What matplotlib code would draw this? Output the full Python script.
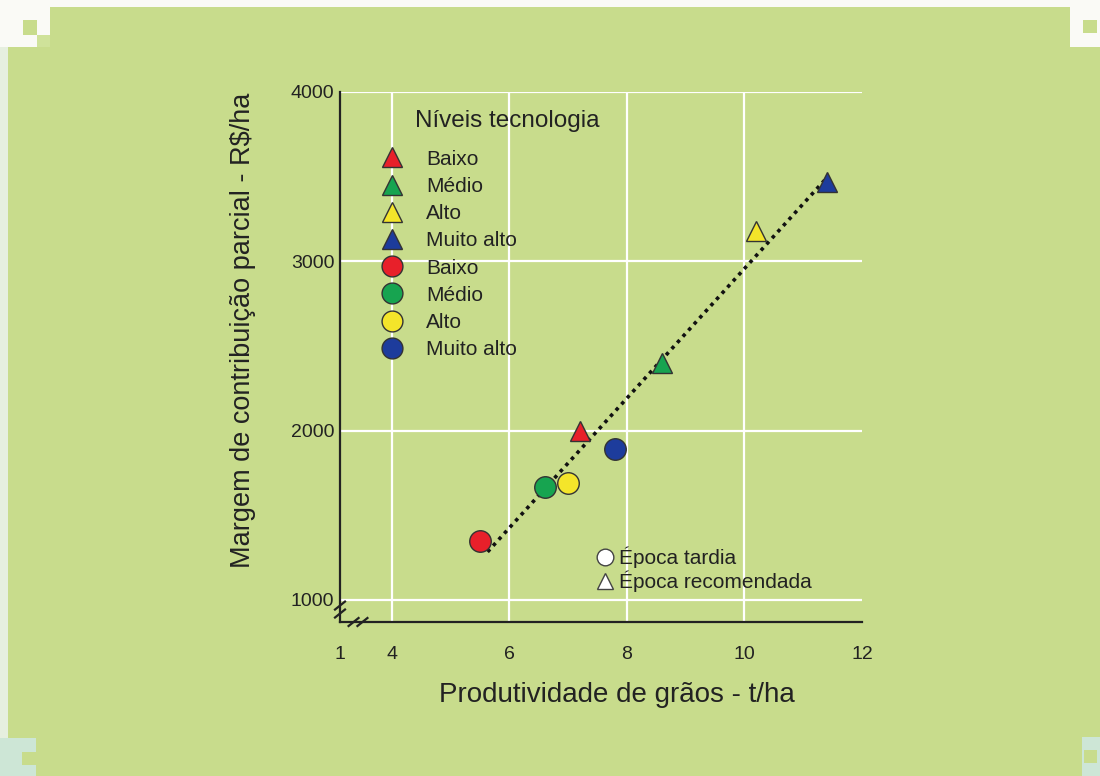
import numpy as np
import matplotlib
matplotlib.use("Agg")
import matplotlib.pyplot as plt
from matplotlib.lines import Line2D
from matplotlib.patches import Rectangle

plt.rcParams['font.family'] = ['Liberation Sans', 'DejaVu Sans']

# Época recomendada (triangles) and época tardia (circles)
niveis = ['Baixo', 'Médio', 'Alto', 'Muito alto']
cores = ['#e8202a', '#17a450', '#f4e52a', '#1d3c9c']
prod_recomendada = [7.2, 8.6, 10.2, 11.4]
margem_recomendada = [2000, 2400, 3180, 3470]
prod_tardia = [5.5, 6.6, 7.0, 7.8]
margem_tardia = [1350, 1665, 1690, 1890]
reta_x = [5.63, 11.4]

xticks = [3.12, 4, 6, 8, 10, 12]
xticklabels = ['1', '4', '6', '8', '10', '12']
yticks = [1000, 2000, 3000, 4000]

bg = '#c8dc8c'
txt = '#222222'
W, H = 1100, 776
fig = plt.figure(figsize=(W / 100, H / 100), dpi=100, facecolor=bg)


def px_rect(x, y, w, h, color):
    # rectangle given in pixels from the top-left corner
    fig.patches.append(Rectangle((x / W, 1 - (y + h) / H), w / W, h / H,
                                 transform=fig.transFigure, color=color,
                                 lw=0, zorder=0))


# border decoration
px_rect(0, 0, W, 7, '#fafaf6')
px_rect(0, 0, 8, H, '#e6efdf')
px_rect(0, 0, 50, 47, '#fafaf6')
px_rect(23, 20, 14, 15, bg)
px_rect(37, 35, 13, 12, '#cfe29a')
px_rect(1070, 0, 30, 47, '#fafaf6')
px_rect(1083, 20, 14, 13, bg)
px_rect(0, 738, 36, 38, '#cde6d6')
px_rect(22, 752, 14, 13, bg)
px_rect(1082, 737, 18, 39, '#cde6d6')
px_rect(1084, 750, 13, 13, bg)

ax = fig.add_axes([340 / W, 1 - 622 / H, 522 / W, 530 / H])
ax.set_facecolor(bg)
ax.set_xlim(3.12, 12)
ax.set_ylim(870, 4000)

for v in [4, 6, 8, 10]:
    ax.axvline(v, color='white', lw=1.6, zorder=1)
for v in yticks:
    ax.axhline(v, color='white', lw=1.6, zorder=1)

for s in ['top', 'right']:
    ax.spines[s].set_visible(False)
for s in ['left', 'bottom']:
    ax.spines[s].set_color(txt)
    ax.spines[s].set_linewidth(1.6)

ax.set_xticks(xticks)
ax.set_xticklabels(xticklabels)
ax.set_yticks(yticks)
ax.tick_params(axis='both', labelsize=14, colors=txt, length=0)
ax.tick_params(axis='x', pad=17)
ax.tick_params(axis='y', pad=4)

# regression line through all points
coef = np.polyfit(prod_recomendada + prod_tardia,
                  margem_recomendada + margem_tardia, 1)
rx = np.array(reta_x)
ax.plot(rx, np.polyval(coef, rx), color='#111111', lw=2.6,
        linestyle=(0, (1, 1.3)), zorder=2)

for i in range(4):
    ax.plot(prod_recomendada[i], margem_recomendada[i], marker='^', ms=15,
            color=cores[i], mec='#333333', mew=1, ls='none', zorder=3)
    ax.plot(prod_tardia[i], margem_tardia[i], marker='o', ms=15.5,
            color=cores[i], mec='#333333', mew=1, ls='none', zorder=3)

# axis break marks
kw = dict(transform=ax.transAxes, color=txt, lw=1.6, clip_on=False)
dx, dy = 5 / 522, 4 / 530
for yb in [0.031, 0.016]:
    ax.plot([-dx, dx], [yb - dy, yb + dy], **kw)
for xb in [0.026, 0.043]:
    ax.plot([xb - dx, xb + dx], [-dy, dy], **kw)

ax.set_xlabel('Produtividade de grãos - t/ha', fontsize=20, color=txt)
ax.xaxis.set_label_coords(0.531, -0.113)
ax.set_ylabel('Margem de contribuição parcial - R$/ha', fontsize=19.5,
              color=txt)
ax.yaxis.set_label_coords(-0.16, 0.551)

handles = []
for i in range(4):
    handles.append(Line2D([], [], marker='^', ms=14, color=cores[i],
                          mec='#333333', mew=1, ls='none'))
for i in range(4):
    handles.append(Line2D([], [], marker='o', ms=15, color=cores[i],
                          mec='#333333', mew=1, ls='none'))
leg = ax.legend(handles, niveis + niveis, loc='upper left',
                bbox_to_anchor=(0.055, 0.911), frameon=False, fontsize=15,
                labelspacing=0.395, handletextpad=1.06, handlelength=1.2,
                borderpad=0)
for t in leg.get_texts():
    t.set_color(txt)
ax.add_artist(leg)
ax.text(0.1437, 0.945, 'Níveis tecnologia', transform=ax.transAxes,
        fontsize=17.5, color=txt, ha='left', va='center')

epoca = [Line2D([], [], marker='o', ms=12, color='white', mec='#444444',
                mew=1, ls='none'),
         Line2D([], [], marker='^', ms=12, color='white', mec='#444444',
                mew=1, ls='none')]
leg2 = ax.legend(epoca, ['Época tardia', 'Época recomendada'],
                 loc='upper left', bbox_to_anchor=(0.467, 0.162),
                 frameon=False, fontsize=15, labelspacing=0.12,
                 handletextpad=0.2, handlelength=1.0, borderpad=0)
for t in leg2.get_texts():
    t.set_color(txt)

fig.savefig('out.png', dpi=100, facecolor=bg)
